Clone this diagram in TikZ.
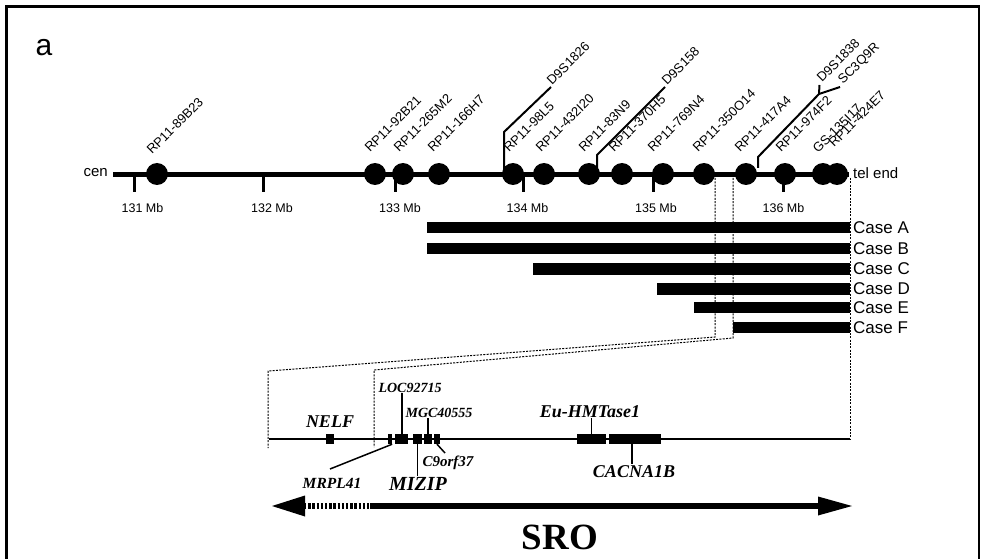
\documentclass[tikz,border=0pt]{standalone}
\usepackage{fontspec}
\setmainfont{Liberation Serif}
\newfontfamily\sansf{Liberation Sans}
\begin{document}
\begin{tikzpicture}[x=1pt,y=-1pt,
  bac/.style={circle,fill=black,minimum size=22pt,inner sep=0pt},
  lab/.style={rotate=45,anchor=base west,inner sep=0pt,font=\sansf\fontsize{13}{13}\selectfont},
  mb/.style={anchor=base,inner sep=0pt,font=\sansf\fontsize{12.5}{12.5}\selectfont},
  tickm/.style={line width=3pt},
  chrom/.style={line width=4.5pt},
  casebar/.style={fill=black},
  caselab/.style={anchor=west,inner sep=0pt,font=\sansf\fontsize{17}{17}\selectfont},
  endlab/.style={inner sep=0pt,font=\sansf\fontsize{15}{15}\selectfont},
  dotl/.style={line width=1pt,dash pattern=on 2pt off 1.3pt},
  gene/.style={fill=black,inner sep=0pt,minimum height=10pt},
  glab/.style={anchor=base,inner sep=1pt,font=\bfseries\itshape\fontsize{#1}{#1}\selectfont},
  lead/.style={line width=1.5pt},
  stsline/.style={line width=2pt},
  shaft/.style={line width=6pt}
]
\useasboundingbox (0,0) rectangle (986,559);
\clip (0,0) rectangle (986,559);
\draw[line width=2.5pt] (6.5,6.5) rectangle (979,640);
\node[anchor=base,inner sep=0pt,font=\sansf\fontsize{30}{30}\selectfont] (pa) at (44,56) {a};

% chromosome
\node[endlab,anchor=east] (cen) at (108,173) {cen};
\node[endlab,anchor=west] (tel) at (853,173) {tel end};
\coordinate (L0) at (113,174.5);
\coordinate (L1) at (849,174.5);
\draw[chrom] (L0) -- (L1);

% ticks
\foreach \tx/\lx/\t in {134/142.5/131,263/272/132,395/400/133,523/527.5/134,653/656/135,783/783.5/136}{
  \draw[tickm] (\tx,174.5) -- (\tx,192);
  \node[mb] (mb\t) at (\lx,213) {\t\ Mb};
}

% dotted guide lines
\draw[dotl] (715,178) -- (715,337) -- (268,371) -- (268,448);
\draw[dotl] (733,178) -- (733,338) -- (374,370) -- (374,447);
\draw[dotl] (850,178) -- (850,439);

% STS marker lines
\draw[stsline] (504,170) -- (504,132) -- (551,87);
\draw[stsline] (597,168) -- (597,155) -- (665,87);
\draw[stsline] (758,168) -- (758,157) -- (819,94) coordinate (fork);
\draw[stsline] (fork) -- (819.5,85);
\draw[stsline] (fork) -- (840,87);

% BAC circles
\node[bac] (c89) at (157,174) {};
\node[bac] (c92) at (375,174) {};
\node[bac] (c265) at (403,174) {};
\node[bac] (c166) at (439,174) {};
\node[bac] (c98) at (513,174) {};
\node[bac] (c432) at (544,174) {};
\node[bac] (c83) at (589,174) {};
\node[bac] (c370) at (622,174) {};
\node[bac] (c769) at (663,174) {};
\node[bac] (c350) at (704,174) {};
\node[bac] (c417) at (746,174) {};
\node[bac] (c974) at (785,174) {};
\node[bac] (c135) at (823,174) {};
\node[bac] (c424) at (837,174) {};

% BAC labels
\node[lab] (l89) at (152,155) {RP11-89B23};
\node[lab] (l92) at (370,153) {RP11-92B21};
\node[lab] (l265) at (399,153) {RP11-265M2};
\node[lab] (l166) at (433,153) {RP11-166H7};
\node[lab] (l98) at (509,153) {RP11-98L5};
\node[lab] (l432) at (541,153) {RP11-432I20};
\node[lab] (l83) at (584,153) {RP11-83N9};
\node[lab] (l370) at (614,153) {RP11-370H5};
\node[lab] (l769) at (653,153) {RP11-769N4};
\node[lab] (l350) at (698,153) {RP11-350O14};
\node[lab] (l417) at (740,153) {RP11-417A4};
\node[lab] (l974) at (781,153) {RP11-974F2};
\node[lab] (l135) at (818,154) {GS-135I17};
\node[lab] (l424) at (834,148) {RP11-424E7};
\node[lab] (s1826) at (552,86) {D9S1826};
\node[lab] (s158) at (667,86) {D9S158};
\node[lab] (s1838) at (822,83) {D9S1838};
\node[lab] (sc3) at (843,85) {SC3Q9R};

% cases
\foreach \n/\l/\cy in {A/427/227.5,B/427/248.5,C/533/269,D/657/289,E/694/307.5,F/733/327.5}{
  \fill[casebar] (\l,\cy-5.7) rectangle (850,\cy+5.7);
  \node[caselab] (case\n) at (853,\cy) {Case \n};
}

% gene line
\coordinate (G0) at (269,439);
\coordinate (G1) at (850,439);
\draw[line width=1.8pt] (G0) -- (G1);

\node[gene,minimum width=8pt] (gNELF) at (330,439) {};
\node[gene,minimum width=4pt] (gMRPL) at (390,439) {};
\node[gene,minimum width=13pt] (gLOC) at (401.5,439) {};
\node[gene,minimum width=9pt] (gMIZ) at (417.5,439) {};
\node[gene,minimum width=8pt] (gMGC) at (428,439) {};
\node[gene,minimum width=6pt] (gC9) at (437,439) {};
\node[gene,minimum width=29pt] (gEU) at (591.5,439) {};
\node[gene,minimum width=52pt] (gCAC) at (635,439) {};

\node[glab=18] (tNELF) at (330,427) {NELF};
\node[glab=15.5] (tMRPL) at (332,488) {MRPL41};
\node[glab=14] (tLOC) at (410,392) {LOC92715};
\node[glab=20] (tMIZ) at (418,490) {MIZIP};
\node[glab=14] (tMGC) at (439,417) {MGC40555};
\node[glab=15] (tC9) at (448,466) {C9orf37};
\node[glab=18] (tEU) at (590,417) {Eu-HMTase1};
\node[glab=18] (tCAC) at (634,477) {CACNA1B};

\coordinate (eMRPL) at (330,469);
\coordinate (eC9) at (445,453);
\draw[lead] (gMRPL.south east) -- (eMRPL);
\draw[lead] ([xshift=0.5pt]gLOC.north) -- ([xshift=0.5pt]gLOC.north |- tLOC.south);
\draw[lead] (gMIZ.south) -- (gMIZ.south |- tMIZ.north);
\draw[lead] (gMGC.north) -- (gMGC.north |- tMGC.south);
\draw[lead] (gC9.south) -- (eC9);
\draw[lead] (gEU.north) -- (gEU.north |- tEU.south);
\draw[lead] ([xshift=-3pt]gCAC.south) -- ([xshift=-3pt]gCAC.south |- tCAC.north);

% SRO arrow
\coordinate (A0) at (272,506);
\coordinate (A1) at (852,506);
\fill (A0) -- (305,495.5) -- (305,516.5) -- cycle;
\fill (A1) -- (818,496.5) -- (818,515.5) -- cycle;
\draw[shaft] (370,506) -- (819,506);
\draw[shaft,dash pattern=on 2.4pt off 1.8pt] (304,506) -- (370,506);
\node[anchor=base,inner sep=0pt,font=\bfseries\fontsize{37}{37}\selectfont] (sro) at (560,549) {SRO};
\end{tikzpicture}
\end{document}
